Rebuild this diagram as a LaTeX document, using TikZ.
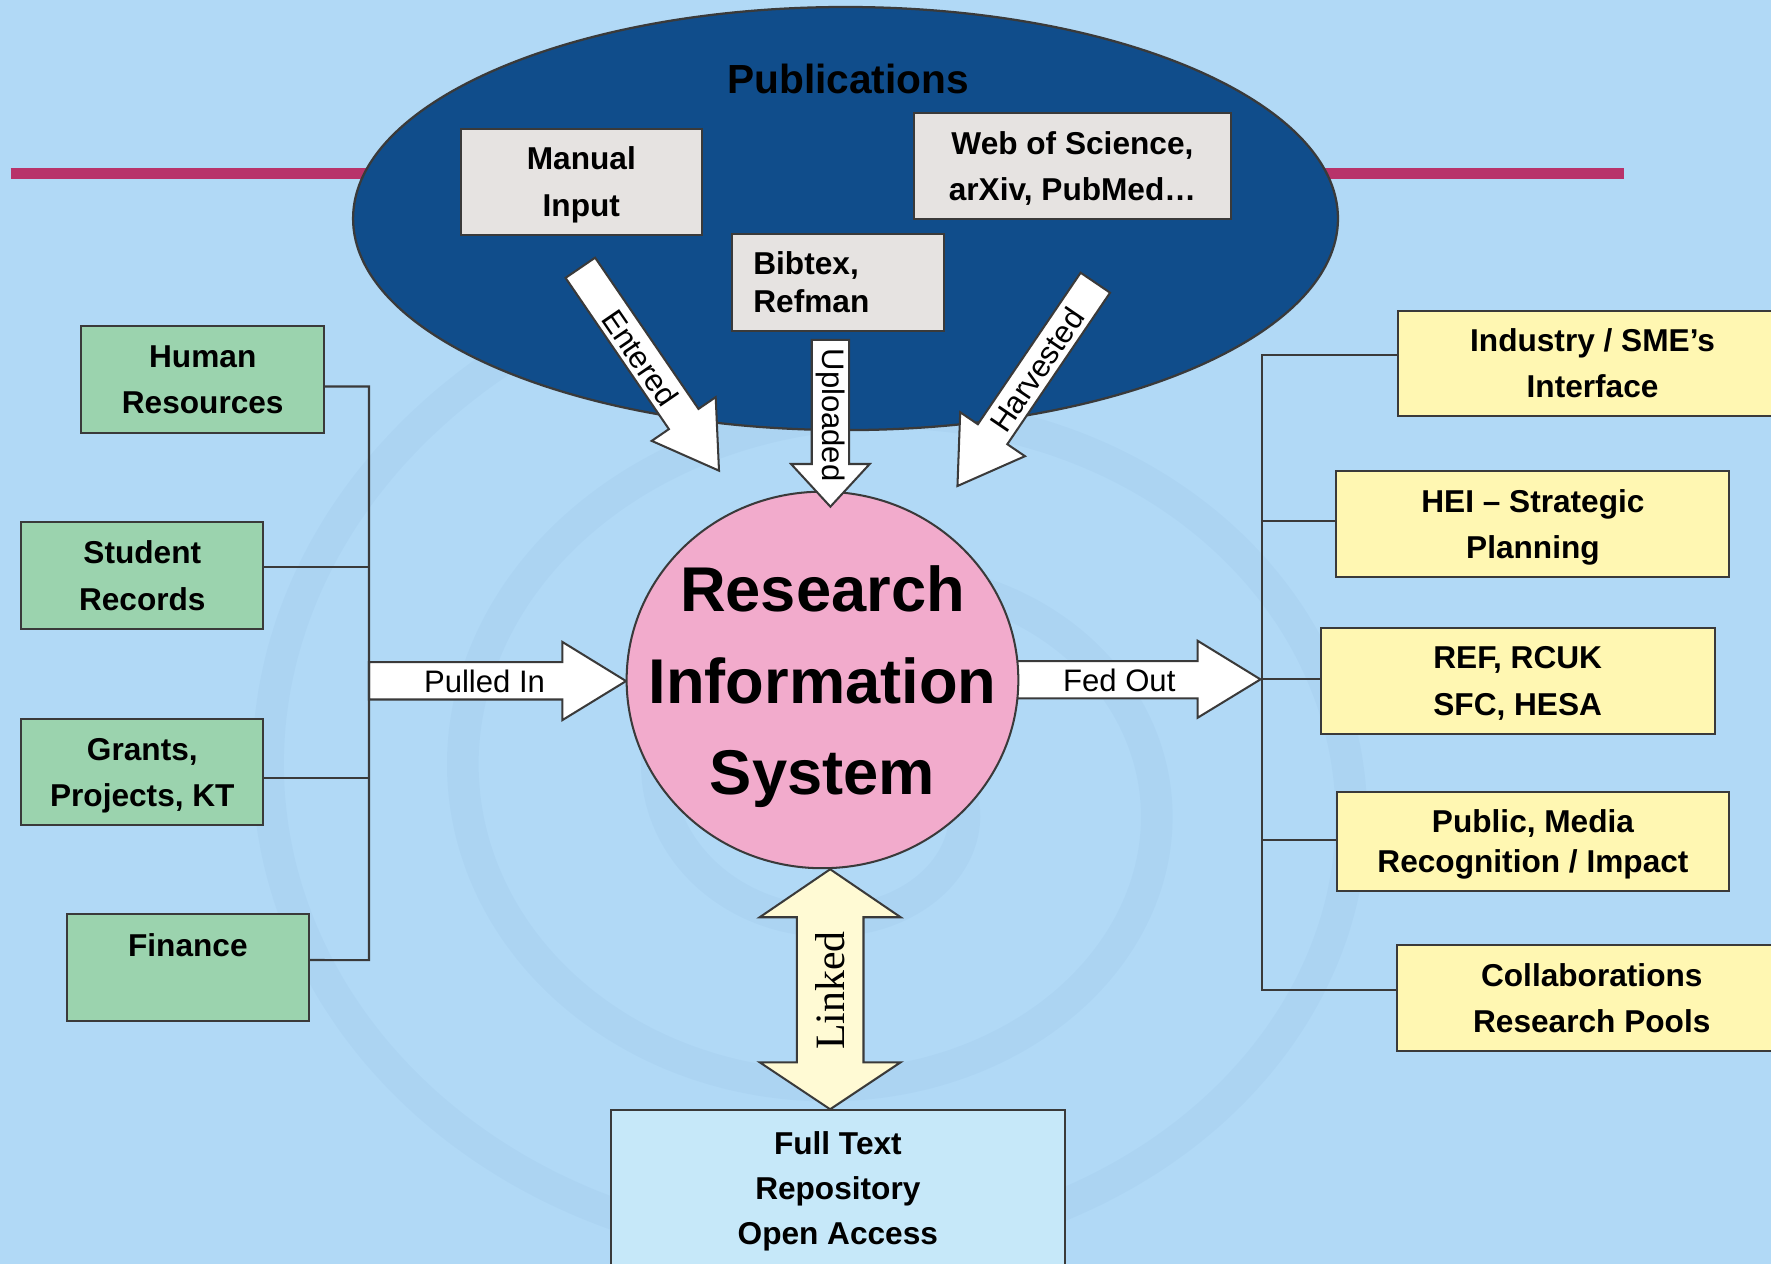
\documentclass[tikz,border=0pt]{standalone}
\usepackage{fontspec}
\setmainfont{Liberation Sans}
\newfontfamily\serifface{Liberation Serif}
\usetikzlibrary{shapes.geometric}
\definecolor{bgblue}{RGB}{177,217,246}
\definecolor{pubblue}{RGB}{16,77,139}
\definecolor{magline}{RGB}{184,51,106}
\definecolor{grayfill}{RGB}{230,227,225}
\definecolor{greenfill}{RGB}{155,211,174}
\definecolor{yellowfill}{RGB}{255,247,178}
\definecolor{pinkfill}{RGB}{242,171,204}
\definecolor{repofill}{RGB}{198,232,249}
\definecolor{linkfill}{RGB}{255,250,212}
\definecolor{edge}{RGB}{58,58,58}
\definecolor{swirlc}{RGB}{80,130,185}
\begin{document}
\begin{tikzpicture}[x=0.5pt,y=-0.5pt,
  every node/.style={inner sep=0pt, outer sep=0pt},
  boxline/.style={draw=edge, line width=0.9pt},
  bx/.style={boxline, align=center, text depth=0pt, font=\fontsize{14}{20.5}\selectfont\bfseries},
  greenbox/.style={bx, fill=greenfill},
  yellowbox/.style={bx, fill=yellowfill},
  graybox/.style={bx, fill=grayfill},
  conn/.style={draw=edge, line width=0.9pt},
  blockarrow/.style={draw=edge, line width=0.9pt, fill=white, line join=miter},
  arrowlabel/.style={font=\fontsize{13.75}{16}\selectfont},
]
\useasboundingbox (0,0) rectangle (1568,1119);
\clip (0,0) rectangle (1568,1119);
\fill[bgblue] (0,0) rectangle (1568,1119);
% faint background swirl
\begin{scope}[opacity=0.05]
  \draw[swirlc, line width=14pt, line cap=round]
    plot[domain=0:1000, samples=250, smooth]
    ({760+(90+0.48*\x)*cos(\x)}, {700+(90+0.48*\x)*0.85*sin(\x)});
\end{scope}

% magenta rule
\draw[magline, line width=4.75pt] (9.3,153.7) -- (1437.4,153.7);

% Publications ellipse
\node[ellipse, draw=edge, line width=1pt, fill=pubblue,
      minimum width=436pt, minimum height=187.3pt] (pubs) at (748.6,193.5) {};
\node[font=\fontsize{18}{20}\selectfont\bfseries] (pubtitle) at (751,70) {Publications};

\node[graybox, minimum width=106.5pt, minimum height=47pt] (manual) at (514.7,160.8) {Manual\\Input};
\node[graybox, minimum width=140.35pt, minimum height=46.95pt] (wos) at (949.5,147.25) {Web of Science,\\arXiv, PubMed\ldots};
\node[boxline, fill=grayfill, align=left, text width=75.15pt, inner xsep=9.25pt, minimum height=42.9pt,
      font=\fontsize{14}{17}\selectfont\bfseries] (bib) at (742.15,250.1) {Bibtex,\\Refman};

% Entered arrow
\begin{scope}[shift={(575.2,326.9)}, rotate=-55.65]
  \draw[blockarrow] (-108.8,-15.85) -- (53.4,-15.85) -- (53.4,-34.3) -- (108.8,0)
    -- (53.4,34.3) -- (53.4,15.85) -- (-108.8,15.85) -- cycle;
\end{scope}
\node[arrowlabel, rotate=-55.65] (tentered) at (567,317) {Entered};

% Harvested arrow
\begin{scope}[shift={(908.75,340.3)}, rotate=-124.15]
  \draw[blockarrow] (-108.75,-15.75) -- (53.35,-15.75) -- (53.35,-34.65) -- (108.75,0)
    -- (53.35,34.65) -- (53.35,15.75) -- (-108.75,15.75) -- cycle;
\end{scope}
\node[arrowlabel, rotate=55.85] (tharvested) at (918,327.6) {Harvested};

% Fed Out arrow (behind the circle)
\draw[blockarrow] (885,585.3) -- (1060.3,585.3) -- (1060.3,567.3) -- (1116,601.5)
  -- (1060.3,635.5) -- (1060.3,618.4) -- (885,618.4) -- cycle;
\node[arrowlabel] (tfed) at (991,602) {Fed Out};

% Pulled In arrow
\draw[blockarrow] (326.7,586.3) -- (498,586.3) -- (498,568.4) -- (554.3,603)
  -- (498,637.5) -- (498,619.3) -- (326.7,619.3) -- cycle;
\node[arrowlabel] (tpulled) at (429,603) {Pulled In};

% Research Information System
\node[ellipse, draw=edge, line width=0.9pt, fill=pinkfill,
      minimum width=173.4pt, minimum height=166.7pt] (ris) at (728.2,602) {};
\node[font=\fontsize{28}{40.6}\selectfont\bfseries, align=center] (ristext) at (728.2,608)
  {Research\\Information\\System};

% Uploaded arrow (over the circle)
\begin{scope}[shift={(735.2,374.8)}, rotate=-90]
  \draw[blockarrow] (-73.8,-16.5) -- (36,-16.5) -- (36,-34.8) -- (73.8,0)
    -- (36,34.8) -- (36,16.5) -- (-73.8,16.5) -- cycle;
\end{scope}
\node[arrowlabel, rotate=-90] (tuploaded) at (735,367.5) {Uploaded};

% Linked double arrow
\draw[blockarrow, fill=linkfill] (735,769.6) -- (797.4,812.1) -- (764.5,812.1) -- (764.5,940.5)
  -- (797.4,940.5) -- (735,982.1) -- (672.6,940.5) -- (705.5,940.5) -- (705.5,812.1)
  -- (672.6,812.1) -- cycle;
\node[font=\serifface\fontsize{18.5}{20}\selectfont, rotate=90] (tlinked) at (735,877) {Linked};

% Repository
\node[bx, fill=repofill, minimum width=201.1pt, minimum height=69pt,
      font=\fontsize{14}{20}\selectfont\bfseries] (repo) at (741.8,1052) {Full Text\\Repository\\Open Access};

% Left boxes
\node[greenbox, minimum width=107.5pt, minimum height=47pt] (hr) at (179.5,336) {Human\\Resources};
\node[greenbox, minimum width=107pt, minimum height=47pt] (sr) at (126,509.5) {Student\\Records};
\node[greenbox, minimum width=107pt, minimum height=47pt] (grants) at (126,683.7) {Grants,\\Projects, KT};
\node[greenbox, minimum width=107.3pt, minimum height=47.25pt] (fin) at (166.3,856.75) {};
\node[font=\fontsize{14}{20.5}\selectfont\bfseries] (fintext) at (166.3,837) {Finance};

\coordinate (lbot) at (326.7,850);
\draw[conn] ([yshift=-3.1pt]hr.east) -| (lbot) -- ([yshift=3.4pt]fin.east);
\draw[conn] ([yshift=3.6pt]sr.east) -| (lbot);
\draw[conn] ([yshift=-2.75pt]grants.east) -| (lbot);

% Right boxes
\node[yellowbox, minimum width=172pt, minimum height=46.5pt] (ind) at (1410,321.5) {Industry / SME’s\\Interface};
\node[yellowbox, minimum width=174pt, minimum height=47pt] (hei) at (1357.2,464) {HEI – Strategic\\Planning};
\node[yellowbox, minimum width=174.35pt, minimum height=47.2pt] (ref) at (1343.7,602.8) {REF, RCUK\\SFC, HESA};
\node[yellowbox, minimum width=173.75pt, minimum height=43.8pt,
      font=\fontsize{14}{17.5}\selectfont\bfseries] (pub) at (1357.25,744.8) {Public, Media\\Recognition / Impact};
\node[yellowbox, minimum width=172.7pt, minimum height=47pt] (col) at (1409.3,883.5) {Collaborations\\Research Pools};

\coordinate (rbot) at (1117,876.9);
\draw[conn] ([yshift=3.5pt]ind.west) -| (rbot) -- ([yshift=3.3pt]col.west);
\draw[conn] ([yshift=1.45pt]hei.west) -| (rbot);
\draw[conn] ([yshift=0.8pt]ref.west) -| (rbot);
\draw[conn] ([yshift=0.75pt]pub.west) -| (rbot);
\end{tikzpicture}
\end{document}
